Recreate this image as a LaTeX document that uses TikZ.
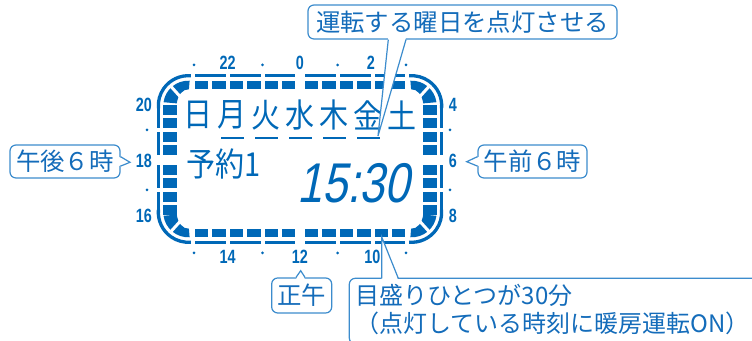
\documentclass[tikz,border=0pt]{standalone}
\usepackage{fontspec}
\newfontfamily\jpfont{Noto Sans CJK JP}
\newfontfamily\lcdfont{Noto Sans CJK JP}[FakeStretch=0.88]
\newfontfamily\hourfont{Liberation Sans}[FakeStretch=0.75]
\newfontfamily\clockfont{Liberation Sans}[FakeStretch=0.8,FakeSlant=0.2]
\definecolor{lcdblue}{RGB}{0,104,183}
\definecolor{calltext}{RGB}{20,108,186}
\definecolor{callline}{RGB}{60,140,205}

\begin{document}
\begin{tikzpicture}[x=0.5pt, y=0.5pt,
    seg/.style={fill=lcdblue},
    hour/.style={text=lcdblue, inner sep=0pt, font=\hourfont\bfseries\fontsize{9.6pt}{10pt}\selectfont},
    lcd/.style={text=lcdblue, inner sep=0pt, font=\lcdfont\fontsize{16.5pt}{18pt}\selectfont},
    callout/.style={draw=callline, line width=0.6pt, fill=white, rounded corners=3pt, text=calltext, inner sep=0pt, font=\jpfont\fontsize{12.2pt}{14.15pt}\selectfont},
    wedge/.style={draw=callline, line width=0.6pt}]

  \useasboundingbox (0,0) rectangle (752,341);
  \clip (0,0) rectangle (752,341);

  % frame: squares = half hours, thin bars = hours
  \foreach \s in {195,305} {
    \foreach \i in {0,...,5} {
      \fill[seg] ({\s+17.4*\i},251.7) rectangle +(13.3,8.6);
      \fill[seg] ({\s+17.4*\i},103.7) rectangle +(13.3,8.4);
    }
    \foreach \j in {0,1,2} {
      \fill[seg] ({\s+34.8*\j},263.7) rectangle +(30.7,3.3);
      \fill[seg] ({\s+34.8*\j},97) rectangle +(30.7,3.3);
    }
  }
  \foreach \t in {236,176} {
    \foreach \i in {0,...,3} {
      \fill[seg] (163.3,{\t-13.33*\i}) rectangle +(13.4,-10);
      \fill[seg] (423.3,{\t-13.33*\i}) rectangle +(13.4,-10);
    }
    \foreach \j in {0,1} {
      \fill[seg] (156.7,{\t-26.67*\j}) rectangle +(3.3,-23.33);
      \fill[seg] (440,{\t-26.67*\j}) rectangle +(3.3,-23.33);
    }
  }
  % corners
  \foreach \cx/\cy/\sa/\ea/\sp/\a in {188.3/235.3/87/172/132/90, 411.7/235.3/8/93/48/0,
      188.3/128.7/188/273/228/180, 411.7/128.7/267/352/312/270} {
    \draw[lcdblue, line width=1.65pt] (\cx,\cy) ++({\a-5}:15pt) arc[start angle=\a-5, end angle=\a+95, radius=15pt];
    \fill[seg] (\cx,\cy) ++(\sa:12.5pt) arc[start angle=\sa, end angle=\ea, radius=12.5pt]
      -- ({\cx+11.6*cos(\ea)},{\cy+16.4*sin(\ea)})
      arc[start angle=\ea, end angle=\sa, x radius=5.8pt, y radius=8.2pt] -- cycle;
    \draw[white, line width=1.5pt] (\cx,\cy) ++(\sp:4pt) -- ++(\sp:9pt);
  }

  % hour marks
  \foreach \x/\t in {227.7/22, 300/0, 371/2} \node[hour] (top\t) at (\x,278) {\t};
  \foreach \x/\t in {227.7/14, 300/12, 372.5/10} \node[hour] (bot\t) at (\x,84) {\t};
  \foreach \y/\l/\r in {236/20/4, 180/18/6, 125/16/8} {
    \node[hour] (left\l) at (144,\y) {\l};
    \node[hour] (right\r) at (453,\y) {\r};
  }
  \foreach \x in {194,262.5,337.7,406} {
    \fill[lcdblue] (\x,276) circle (0.75pt);
    \fill[lcdblue] (\x,88) circle (0.75pt);
  }
  \foreach \y in {211,151} {
    \fill[lcdblue] (147,\y) circle (0.75pt);
    \fill[lcdblue] (450,\y) circle (0.75pt);
  }

  % display contents
  \foreach \d [count=\i from 0] in {日,月,火,水,木,金,土}
    \node[lcd] (day\i) at ({198+34*\i},226) {\d};
  \foreach \i in {1,...,5}
    \fill[seg] ({186.5+34*\i},201.7) rectangle +(23,2.6);
  \node[lcd, anchor=west] (resv) at (186,177.5) {予約1};
  \node[text=lcdblue, inner sep=0pt, font=\clockfont\fontsize{28pt}{30pt}\selectfont] (clock) at (353.5,158) {15:30};

  % callouts
  \node[callout, minimum width=154.5pt, minimum height=17pt] (callDays) at (462.5,319) {運転する曜日を点灯させる};
  \node[callout, minimum width=55pt, minimum height=16.5pt] (callPM) at (65,179.5) {午後６時};
  \node[callout, minimum width=54.5pt, minimum height=16.5pt] (callAM) at (532.5,179.5) {午前６時};
  \node[callout, minimum width=30pt, minimum height=17.5pt] (callNoon) at (301.7,45.5) {正午};
  \node[callout, draw=none, fill=none, anchor=north west, align=left, font=\jpfont\fontsize{12pt}{14.15pt}\selectfont] (callScale) at (354.8,57.3)
    {目盛りひとつが30分\\（点灯している時刻に暖房運転ON）};
  \draw[wedge, rounded corners=3pt] ([xshift=-2.75pt,yshift=2.7pt]callScale.north west) ++(420,0)
    -- ([xshift=-2.75pt,yshift=2.7pt]callScale.north west) |- (770,-3);

  \coordinate (tipDays) at (378,205);
  \coordinate (tipPM) at (130,178.7);
  \coordinate (tipAM) at (466.7,179.3);
  \coordinate (tipNoon) at (300.7,70.3);
  \coordinate (tipScale) at (381.7,104);

  \fill[white] ([xshift=-37.1pt,yshift=1pt]callDays.south) -- (tipDays) -- ([xshift=-28.25pt,yshift=1pt]callDays.south) -- cycle;
  \draw[wedge] ([xshift=-37.1pt]callDays.south) -- (tipDays) -- ([xshift=-28.25pt]callDays.south);
  \fill[white] ([xshift=-1pt,yshift=2.4pt]callPM.east) -- (tipPM) -- ([xshift=-1pt,yshift=-2.3pt]callPM.east) -- cycle;
  \draw[wedge] ([yshift=2.4pt]callPM.east) -- (tipPM) -- ([yshift=-2.3pt]callPM.east);
  \fill[white] ([xshift=1pt,yshift=2.4pt]callAM.west) -- (tipAM) -- ([xshift=1pt,yshift=-2.3pt]callAM.west) -- cycle;
  \draw[wedge] ([yshift=2.4pt]callAM.west) -- (tipAM) -- ([yshift=-2.3pt]callAM.west);
  \fill[white] ([xshift=-2.85pt,yshift=-1pt]callNoon.north) -- (tipNoon) -- ([xshift=1.65pt,yshift=-1pt]callNoon.north) -- cycle;
  \draw[wedge] ([xshift=-2.85pt]callNoon.north) -- (tipNoon) -- ([xshift=1.65pt]callNoon.north);
  \fill[white] ([xshift=13.45pt,yshift=1.7pt]callScale.north west) -- (tipScale) -- ([xshift=21.75pt,yshift=1.7pt]callScale.north west) -- cycle;
  \draw[wedge] ([xshift=13.45pt,yshift=2.7pt]callScale.north west) -- (tipScale) -- ([xshift=21.75pt,yshift=2.7pt]callScale.north west);
\end{tikzpicture}
\end{document}
